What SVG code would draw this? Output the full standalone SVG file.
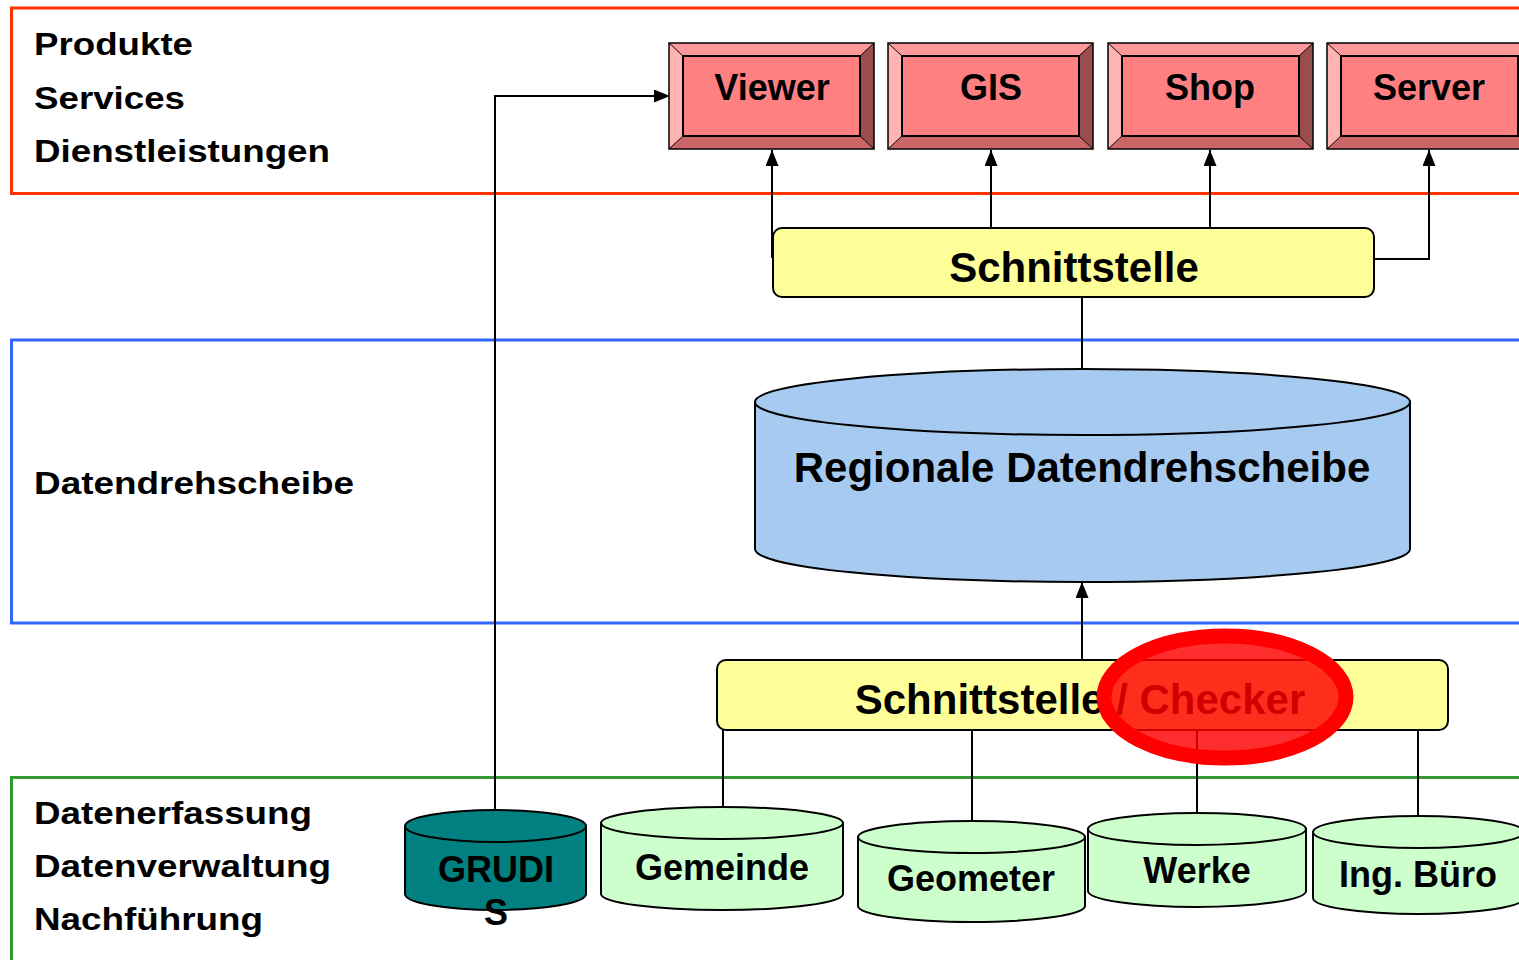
<svg xmlns="http://www.w3.org/2000/svg" xmlns:xlink="http://www.w3.org/1999/xlink" width="1519" height="960" viewBox="0 0 1519 960">
<style>
text{font-family:"Liberation Sans",Arial,Helvetica,sans-serif;font-weight:bold;fill:#000}
.lbl{font-size:32px}
.box{font-size:36px;text-anchor:middle}
.big{font-size:42px;text-anchor:middle}
.frame{fill:none;stroke-width:3}
.con{fill:none;stroke:#000;stroke-width:2}
.cyl{stroke:#000;stroke-width:2}
.green{fill:#ccffcc}
.iface{fill:#ffff99;stroke:#000;stroke-width:2}
</style>
<defs>
<marker id="arr" markerUnits="userSpaceOnUse" markerWidth="16" markerHeight="13" viewBox="0 0 16 13" refX="16" refY="6.5" orient="auto">
<path d="M0,0 L16,6.5 L0,13 Z" fill="#000"/>
</marker>
<g id="bevel">
<polygon points="0,0 205,0 191,13 14,13" fill="#ff9999"/>
<polygon points="0,0 14,13 14,93 0,106" fill="#ffb3b3"/>
<polygon points="205,0 205,106 191,93 191,13" fill="#994d4d"/>
<polygon points="0,106 14,93 191,93 205,106" fill="#cc6666"/>
<rect x="14" y="13" width="177" height="80" fill="#ff8080" stroke="#000" stroke-width="2"/>
<path d="M0,0L14,13M205,0L191,13M0,106L14,93M205,106L191,93" stroke="#000" stroke-width="1"/>
<rect x="0" y="0" width="205" height="106" fill="none" stroke="#000" stroke-width="1.5"/>
</g>
</defs>

<g id="frames">
<rect class="frame" x="11.5" y="8" width="1530" height="185.5" stroke="#ff3300"/>
<rect class="frame" x="11.5" y="340" width="1530" height="283" stroke="#3366ff"/>
<rect class="frame" x="11.5" y="777.5" width="1530" height="200" stroke="#339933"/>
</g>

<g id="layer-labels">
<text class="lbl" x="34" y="55" textLength="159" lengthAdjust="spacingAndGlyphs">Produkte</text>
<text class="lbl" x="34" y="109" textLength="151" lengthAdjust="spacingAndGlyphs">Services</text>
<text class="lbl" x="34" y="162" textLength="296" lengthAdjust="spacingAndGlyphs">Dienstleistungen</text>
<text class="lbl" x="34" y="494" textLength="320" lengthAdjust="spacingAndGlyphs">Datendrehscheibe</text>
<text class="lbl" x="34" y="824" textLength="278" lengthAdjust="spacingAndGlyphs">Datenerfassung</text>
<text class="lbl" x="34" y="877" textLength="297" lengthAdjust="spacingAndGlyphs">Datenverwaltung</text>
<text class="lbl" x="34" y="930" textLength="229" lengthAdjust="spacingAndGlyphs">Nachführung</text>
</g>

<g id="connectors">
<path class="con" d="M495,810 V96 H670" marker-end="url(#arr)"/>
<path class="con" d="M772,258 V150" marker-end="url(#arr)"/>
<path class="con" d="M991,228 V150" marker-end="url(#arr)"/>
<path class="con" d="M1210,228 V150" marker-end="url(#arr)"/>
<path class="con" d="M1374,259 H1429 V150" marker-end="url(#arr)"/>
<path class="con" d="M1082,297 V369"/>
<path class="con" d="M1082,660 V582" marker-end="url(#arr)"/>
<path class="con" d="M723,729 V808"/>
<path class="con" d="M972,729 V822"/>
<path class="con" d="M1197,729 V814"/>
<path class="con" d="M1418,729 V817"/>
</g>

<g id="viewer">
<use xlink:href="#bevel" x="669" y="43"/>
<text class="box" x="772" y="100">Viewer</text>
</g>
<g id="gis">
<use xlink:href="#bevel" x="888" y="43"/>
<text class="box" x="991" y="100">GIS</text>
</g>
<g id="shop">
<use xlink:href="#bevel" x="1108" y="43"/>
<text class="box" x="1210" y="100">Shop</text>
</g>
<g id="server">
<use xlink:href="#bevel" x="1327" y="43"/>
<text class="box" x="1429" y="100">Server</text>
</g>

<g id="schnittstelle-top">
<rect class="iface" x="773" y="228" width="601" height="69" rx="9"/>
<text class="big" x="1074" y="282">Schnittstelle</text>
</g>

<g id="regionale-datendrehscheibe">
<path class="cyl" fill="#a6caf0" d="M755,402 L755,549 A327.5,33 0 0 0 1410,549 L1410,402 Z"/>
<ellipse class="cyl" fill="#a6caf0" cx="1082.5" cy="402" rx="327.5" ry="33"/>
<text class="big" x="1082" y="482">Regionale Datendrehscheibe</text>
</g>

<g id="schnittstelle-checker">
<rect class="iface" x="717" y="660" width="731" height="70" rx="9"/>
<text class="big" x="1080" y="714">Schnittstelle / Checker</text>
</g>

<g id="grudis">
<path class="cyl" fill="#008080" d="M405,826 L405,894 A90.5,16 0 0 0 586,894 L586,826 Z"/>
<ellipse class="cyl" fill="#008080" cx="495.5" cy="826" rx="90.5" ry="16"/>
<text class="box" x="496" y="882">GRUDI</text>
<text class="box" x="496" y="925">S</text>
</g>
<g id="gemeinde">
<path class="cyl green" d="M601,823 L601,894 A121,16 0 0 0 843,894 L843,823 Z"/>
<ellipse class="cyl green" cx="722" cy="823" rx="121" ry="16"/>
<text class="box" x="722" y="880">Gemeinde</text>
</g>
<g id="geometer">
<path class="cyl green" d="M858,837 L858,906 A113.5,16 0 0 0 1085,906 L1085,837 Z"/>
<ellipse class="cyl green" cx="971.5" cy="837" rx="113.5" ry="16"/>
<text class="box" x="971" y="891">Geometer</text>
</g>
<g id="werke">
<path class="cyl green" d="M1088,829 L1088,891 A109,16 0 0 0 1306,891 L1306,829 Z"/>
<ellipse class="cyl green" cx="1197" cy="829" rx="109" ry="16"/>
<text class="box" x="1197" y="883">Werke</text>
</g>
<g id="ing-buero">
<path class="cyl green" d="M1313,832 L1313,898 A105.5,16 0 0 0 1524,898 L1524,832 Z"/>
<ellipse class="cyl green" cx="1418.5" cy="832" rx="105.5" ry="16"/>
<text class="box" x="1418" y="887">Ing. Büro</text>
</g>

<g id="checker-mark">
<ellipse cx="1225" cy="697" rx="121" ry="61" fill="#ff0000" fill-opacity="0.82"/>
<ellipse cx="1225" cy="697" rx="121" ry="61" fill="none" stroke="#ff0000" stroke-width="15"/>
</g>
</svg>
